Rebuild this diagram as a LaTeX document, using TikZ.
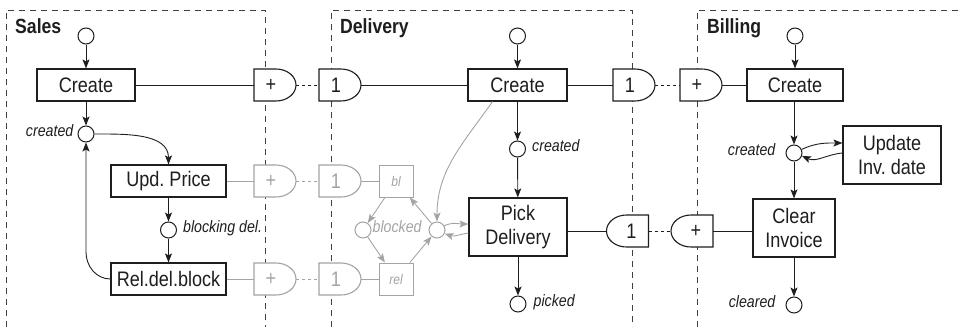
\documentclass[tikz,border=0pt]{standalone}
\usepackage{fontspec}
\setmainfont{Liberation Sans}[FakeStretch=0.86]
\usetikzlibrary{arrows.meta,calc}
\definecolor{ink}{HTML}{1E1E1E}
\definecolor{faded}{HTML}{A4A4A4}
\definecolor{framec}{HTML}{404040}
\frenchspacing

% AND-style gate, flat on the left and round on the right
\newcommand\gateR[5]{%
  \draw[draw=#5, fill=white, line width=1.1pt] (#2-21,#3+16) -- ++(22,0)
    arc[start angle=90, end angle=-90, x radius=20pt, y radius=16pt]
    -- (#2-21,#3-16) -- cycle;
  \node[gate, text=#5] (#1) at (#2,#3) {\kern-8pt #4};
}
% the same gate, round on the left and flat on the right
\newcommand\gateL[5]{%
  \draw[draw=#5, fill=white, line width=1.1pt] (#2+21,#3+16) -- ++(-22,0)
    arc[start angle=90, end angle=270, x radius=20pt, y radius=16pt]
    -- (#2+21,#3-16) -- cycle;
  \node[gate, text=#5] (#1) at (#2,#3) {\kern8pt #4};
}

\begin{document}
\begin{tikzpicture}[x=1pt,y=1pt,
  every node/.style={font=\fontsize{21}{24}\selectfont, text=ink},
  task/.style={draw=ink, line width=1.2pt, fill=white, inner sep=0pt,
               minimum height=32pt, align=center},
  tall/.style={minimum height=58pt},
  place/.style={circle, draw=ink, line width=1pt, fill=white,
                minimum size=16pt, inner sep=0pt},
  greybox/.style={draw=faded, line width=1pt, fill=white, inner sep=0pt,
                  minimum width=34pt, minimum height=32pt,
                  font=\fontsize{14}{16}\selectfont\itshape, text=faded},
  greyplace/.style={place, draw=faded},
  flow/.style={draw=ink, line width=0.9pt, -{Stealth[length=9pt,width=7pt,inset=2pt]}},
  greyflow/.style={flow, draw=faded, -{Stealth[length=9pt,width=7pt,inset=2pt,fill=faded]}},
  link/.style={draw=ink, line width=0.9pt},
  greylink/.style={draw=faded, line width=0.9pt},
  dots/.style={draw=ink, line width=0.9pt, dash pattern=on 3pt off 3pt},
  greydots/.style={dots, draw=faded},
  lbl/.style={font=\fontsize{16.5}{18}\selectfont\itshape, inner sep=0pt},
  lane/.style={draw=framec, line width=1pt, dash pattern=on 6pt off 5pt},
  title/.style={font=\fontsize{20.5}{24}\selectfont\bfseries, anchor=base west, inner sep=0pt},
  gate/.style={minimum width=42pt, minimum height=32pt, inner sep=0pt},
]
\useasboundingbox (0,-327) rectangle (962,0);

% swimlane frames
\draw[lane] (6,-327) -- (6,-10) -- (265,-10) -- (265,-327);
\draw[lane] (331,-327) -- (331,-10) -- (632,-10) -- (632,-327);
\draw[lane] (697,-327) -- (697,-10) -- (962,-10);
\node[title] (tsales) at (15,-33) {Sales};
\node[title] (tdeliv) at (340,-33) {Delivery};
\node[title] (tbill) at (707,-33) {Billing};

% ---------- Sales ----------
\node[place] (s0) at (86,-36) {};
\node[task, minimum width=98pt] (screate) at (86,-85) {Create};
\node[place] (scr) at (86,-134) {};
\node[lbl, anchor=mid east] (scrl) at ($(scr.west)+(-4,0)$) {created};
\node[task, minimum width=115pt] (upd) at (168.5,-181) {Upd. Price};
\node[place] (blk) at (168.5,-230) {};
\node[lbl, anchor=mid west] (blkl) at ($(blk.east)+(6,0)$) {blocking del.};
\node[task, minimum width=115pt] (rel) at (168.5,-279) {Rel.del.block};
\coordinate (sbend) at (86,-252);

\draw[flow] (s0) -- (screate);
\draw[flow] (screate) -- (scr);
\draw[flow] (scr.east) to[out=0,in=90] (upd.north);
\draw[flow] (upd) -- (blk);
\draw[flow] (blk) -- (rel);
\draw[flow] (rel.west) to[out=180,in=-90] (sbend) -- (scr.south);

% ---------- Delivery ----------
\node[place] (d0) at (517.5,-36) {};
\node[task, minimum width=99pt] (dcreate) at (517.5,-85) {Create};
\node[place] (dcr) at (517.5,-149) {};
\node[lbl, anchor=mid west] (dcrl) at ($(dcr.east)+(6,0)$) {created};
\node[task, tall, minimum width=98pt] (pick) at (518,-227) {Pick\\Delivery};
\node[place] (picked) at (518,-304) {};
\node[lbl, anchor=mid west] (pickedl) at ($(picked.east)+(7,0)$) {picked};

\draw[flow] (d0) -- (dcreate);
\draw[flow] (dcreate) -- (dcr);
\draw[flow] (dcr) -- (pick);
\draw[flow] (pick) -- (picked);

% ---------- Billing ----------
\node[place] (b0) at (795,-36) {};
\node[task, minimum width=96pt] (bcreate) at (795,-85) {Create};
\node[place] (bcr) at (794,-153) {};
\node[lbl, anchor=mid east] (bcrl) at ($(bcr.west)+(-10,0)$) {created};
\node[task, tall, minimum width=98pt] (updinv) at (892,-155) {Update\\Inv. date};
\node[task, tall, minimum width=82pt] (clear) at (794,-228) {Clear\\Invoice};
\node[place] (cleared) at (794,-305) {};
\node[lbl, anchor=mid east] (clearedl) at ($(cleared.west)+(-10,0)$) {cleared};

\draw[flow] (b0) -- (bcreate);
\draw[flow] (bcreate.south -| bcr) -- (bcr);
\draw[flow] (bcr) -- (clear.north -| bcr);
\draw[flow] (clear.south -| cleared) -- (cleared);
\draw[flow] (bcr.25) to[out=25,in=180] ($(updinv.west)+(0,12)$);
\draw[flow] ($(updinv.west)+(0,2)$) to[out=185,in=-25] (bcr.-20);

% ---------- gates between the lanes ----------
\gateR{g1}{275}{-85}{+}{ink}
\gateR{g2}{340}{-85}{1}{ink}
\gateR{g3}{634}{-85}{1}{ink}
\gateR{g4}{701}{-85}{+}{ink}
\gateL{g5}{627.5}{-231}{1}{ink}
\gateL{g6}{692}{-231}{+}{ink}

\draw[link] (screate) -- (g1);
\draw[dots] (g1.east) -- (g2.west);
\draw[link] (g2.east) -- (dcreate);
\draw[link] (dcreate) -- (g3);
\draw[dots] (g3.east) -- (g4.west);
\draw[link] (g4.east) -- (bcreate);
\draw[link] (pick.east |- g5.west) -- (g5.west);
\draw[dots] (g5.east) -- (g6.west);
\draw[link] (g6.east) -- (g6.east -| clear.west);

% ---------- faded delivery block ----------
\gateR{gu1}{275}{-181}{+}{faded}
\gateR{gu2}{340}{-181}{1}{faded}
\gateR{gr1}{275}{-279}{+}{faded}
\gateR{gr2}{340}{-279}{1}{faded}
\node[greybox] (blbox) at (396,-181) {bl};
\node[greybox] (relbox) at (396,-279) {rel};
\node[greyplace] (blocked) at (363,-230) {};
\node[lbl, text=faded, anchor=mid west] (blockedl) at ($(blocked.east)+(1,0)$) {blocked};
\node[greyplace] (hub) at (437,-230) {};
\coordinate (dcs) at ($(dcreate.south)+(-25,0)$);

\draw[greylink] (upd) -- (gu1);
\draw[greydots] (gu1.east) -- (gu2.west);
\draw[greylink] (gu2.east) -- (blbox);
\draw[greylink] (rel) -- (gr1);
\draw[greydots] (gr1.east) -- (gr2.west);
\draw[greylink] (gr2.east) -- (relbox);

\draw[greyflow] (blbox) -- (blocked);
\draw[greyflow] (blocked) -- (relbox);
\draw[greyflow] (relbox) -- (hub);
\draw[greyflow] (hub) -- (blbox);
\draw[greyflow] (dcs) to[out=-125,in=90] (hub.north);
\draw[greyflow] (hub.30) to[out=25,in=180] ($(pick.west)+(0,3)$);
\draw[greyflow] ($(pick.west)+(0,-6)$) to[out=190,in=-20] (hub.-25);
\end{tikzpicture}
\end{document}
